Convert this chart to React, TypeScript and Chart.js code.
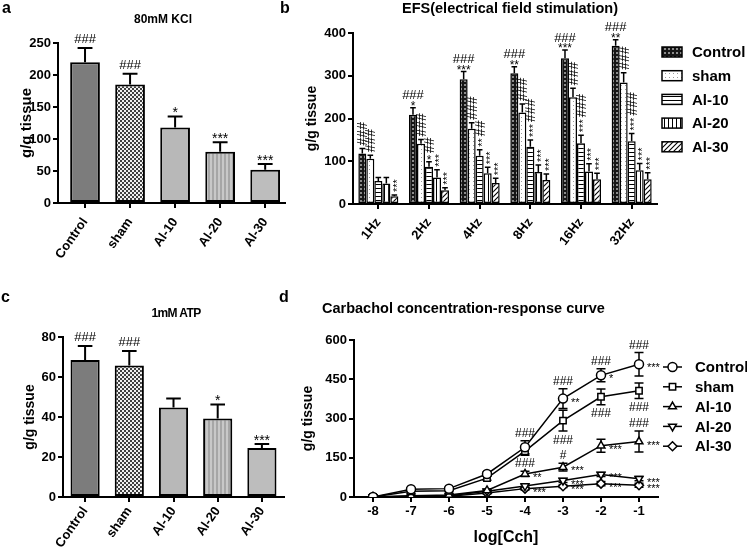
import React, { useEffect, useRef } from 'react';
import { Chart, registerables } from 'chart.js';
import { drawPoint } from 'chart.js/helpers';

Chart.register(...registerables);

const FONT = '"Liberation Sans", Arial, Helvetica, sans-serif';

// ---------- Panel a: 80mM KCl ----------
const groupLabels = ['Control', 'sham', 'Al-10', 'Al-20', 'Al-30'];
const kclMean = [220, 185, 118, 80, 52];
const kclSem = [22, 17, 17, 15, 9];
const kclTicks = [0, 50, 100, 150, 200, 250];
const kclMarks = ['###', '###', '*', '***', '***'];

// ---------- Panel c: 1mM ATP ----------
const atpMean = [68.5, 65.7, 44.8, 39.3, 24.5];
const atpSem = [7, 7.3, 4.4, 7, 2];
const atpTicks = [0, 20, 40, 60, 80];
const atpMarks = ['###', '###', '', '*', '***'];

// ---------- Panel b: EFS ----------
const efsLabels = ['1Hz', '2Hz', '4Hz', '8Hz', '16Hz', '32Hz'];
const efsControl = [118, 209, 292, 306, 341, 370];
const efsControlSem = [12, 16, 18, 15, 19, 14];
const efsSham = [106, 141, 176, 214, 250, 284];
const efsShamSem = [8, 10, 14, 20, 21, 23];
const efsAl10 = [54, 87, 113, 134, 142, 147];
const efsAl10Sem = [8, 12, 14, 16, 19, 18];
const efsAl20 = [48, 62, 72, 75, 76, 79];
const efsAl20Sem = [14, 18, 14, 16, 18, 16];
const efsAl30 = [18, 32, 49, 56, 58, 58];
const efsAl30Sem = [3, 6, 11, 14, 14, 15];
const efsTicks = [0, 100, 200, 300, 400];
// marks stacked bottom-to-top, '^' = written vertically
const efsControlMarks = ['^###', '*,###', '***,###', '**,###', '***,###', '**,###'];
const efsShamMarks = ['^###', '^###', '^###', '^###', '^###', '^###'];
const efsAl10Marks = ['', '*,^##', '^**,^##', '^***,^###', '^***,^###', '^***,^###'];
const efsAl20Marks = ['', '^***', '^***', '^***', '^***', '^***'];
const efsAl30Marks = ['^***', '^***', '^***', '^***', '^***', '^***'];

// ---------- Panel d: Carbachol ----------
const cchX = [-8, -7, -6, -5, -4, -3, -2, -1];
const cchControl = [0, 30, 32, 88, 190, 376, 465, 507];
const cchControlSem = [0, 4, 4, 8, 25, 38, 25, 45];
const cchSham = [0, 22, 24, 72, 175, 292, 383, 406];
const cchShamSem = [0, 3, 3, 8, 15, 40, 30, 30];
const cchAl10 = [0, 5, 8, 25, 88, 114, 196, 212];
const cchAl10Sem = [0, 2, 2, 5, 10, 15, 25, 40];
const cchAl20 = [0, 3, 5, 22, 42, 63, 86, 70];
const cchAl20Sem = [0, 1, 1, 3, 6, 8, 8, 8];
const cchAl30 = [0, 2, 3, 15, 32, 41, 51, 45];
const cchAl30Sem = [0, 1, 1, 3, 5, 5, 8, 8];
const cchTicks = [0, 150, 300, 450, 600];
const cchMarks = [
  { s: 0, i: 4, t: '###', at: 'above' },
  { s: 0, i: 5, t: '###', at: 'above' },
  { s: 0, i: 6, t: '###', at: 'above' },
  { s: 0, i: 7, t: '###', at: 'above' },
  { s: 0, i: 5, t: '**', at: 'right' },
  { s: 0, i: 6, t: '*', at: 'right' },
  { s: 0, i: 7, t: '***', at: 'right' },
  { s: 1, i: 5, t: '###', at: 'below' },
  { s: 1, i: 6, t: '###', at: 'below' },
  { s: 1, i: 7, t: '###', at: 'below' },
  { s: 2, i: 4, t: '###', at: 'above' },
  { s: 2, i: 5, t: '#', at: 'above' },
  { s: 2, i: 7, t: '###', at: 'above' },
  { s: 2, i: 4, t: '**', at: 'right' },
  { s: 2, i: 5, t: '***', at: 'right' },
  { s: 2, i: 6, t: '***', at: 'right' },
  { s: 2, i: 7, t: '***', at: 'right' },
  { s: 3, i: 5, t: '***', at: 'right' },
  { s: 3, i: 6, t: '***', at: 'right' },
  { s: 3, i: 7, t: '***', at: 'right' },
  { s: 4, i: 4, t: '***', at: 'right' },
  { s: 4, i: 5, t: '***', at: 'right' },
  { s: 4, i: 6, t: '***', at: 'right' },
  { s: 4, i: 7, t: '***', at: 'right' },
];

// ---------- helpers ----------
function tile(w: number, h: number, draw: (g: CanvasRenderingContext2D) => void) {
  const c = document.createElement('canvas');
  c.width = w;
  c.height = h;
  const g = c.getContext('2d') as CanvasRenderingContext2D;
  draw(g);
  return g.createPattern(c, 'repeat');
}

const axisGrid = () => ({
  display: true,
  drawOnChartArea: false,
  drawTicks: true,
  tickLength: 5,
  color: '#000',
  lineWidth: 2,
  offset: false,
});
const axisBorder = { display: true, color: '#000', width: 2 };
const tickFont = { family: FONT, size: 13, weight: 'bold' as const };

function yScale(ticks: number[], width: number, titleSize: number, titlePad: number) {
  return {
    type: 'linear',
    min: ticks[0],
    max: ticks[ticks.length - 1],
    afterBuildTicks: (s: any) => {
      s.ticks = ticks.map((v) => ({ value: v }));
    },
    afterFit: (s: any) => {
      s.width = width;
    },
    grid: axisGrid(),
    border: axisBorder,
    ticks: { color: '#000', font: tickFont, padding: 2 },
    title: {
      display: true,
      text: 'g/g tissue',
      color: '#000',
      font: { family: FONT, size: titleSize, weight: 'bold' },
      padding: { top: titlePad, bottom: 0 },
    },
  };
}

function stackMarks(ctx: CanvasRenderingContext2D, x: number, y0: number, spec: string, o: any) {
  const tokens = (spec || '').split(',').filter(Boolean);
  let cursor = y0;
  ctx.save();
  ctx.fillStyle = '#000';
  for (const tok of tokens) {
    const vertical = tok[0] === '^';
    const t = vertical ? tok.slice(1) : tok;
    const isStar = t[0] === '*';
    const size = vertical ? (isStar ? o.vstar : o.vhash) : isStar ? o.star : o.hash;
    ctx.font = `${size}px ${FONT}`;
    ctx.textBaseline = 'alphabetic';
    if (!vertical) {
      ctx.textAlign = 'center';
      ctx.fillText(t, x, cursor + (isStar ? 0.42 * size : 0));
      cursor -= (isStar ? 0.3 : 0.72) * size + o.sp;
    } else {
      const w = ctx.measureText(t).width;
      ctx.save();
      ctx.translate(x + (isStar ? 0.58 : 0.36) * size, cursor);
      ctx.rotate(-Math.PI / 2);
      ctx.textAlign = 'left';
      ctx.fillText(t, 0, 0);
      ctx.restore();
      cursor -= w + o.sp;
    }
  }
  ctx.restore();
}

function barDecor(id: string, sems: number[][], marks: string[][], o: any) {
  return {
    id,
    afterDatasetsDraw(chart: any) {
      const ctx = chart.ctx;
      const ys = chart.scales.y;
      chart.data.datasets.forEach((ds: any, di: number) => {
        const meta = chart.getDatasetMeta(di);
        meta.data.forEach((bar: any, i: number) => {
          const raw = ds.data[i];
          const v = typeof raw === 'number' ? raw : raw.y;
          const top = ys.getPixelForValue(v + sems[di][i]);
          const half = (bar.width * o.cap) / 2;
          ctx.save();
          ctx.strokeStyle = '#000';
          ctx.lineWidth = o.lw;
          ctx.beginPath();
          ctx.moveTo(bar.x, bar.y);
          ctx.lineTo(bar.x, top);
          ctx.moveTo(bar.x - half, top);
          ctx.lineTo(bar.x + half, top);
          ctx.stroke();
          ctx.restore();
          stackMarks(ctx, bar.x, top - o.gap, marks[di][i], o);
        });
      });
    },
  };
}

export default function App() {
  const refA = useRef<HTMLCanvasElement>(null);
  const refB = useRef<HTMLCanvasElement>(null);
  const refC = useRef<HTMLCanvasElement>(null);
  const refD = useRef<HTMLCanvasElement>(null);

  useEffect(() => {
    Chart.defaults.font.family = FONT;
    Chart.defaults.color = '#000';

    const P: any = {
      aControl: '#7c7c7c',
      aSham: tile(4, 4, (g) => {
        g.fillStyle = '#f0f0f0';
        g.fillRect(0, 0, 4, 4);
        g.fillStyle = '#404040';
        g.fillRect(0, 0, 2, 2);
        g.fillRect(2, 2, 2, 2);
      }),
      aAl10: '#b8b8b8',
      aAl20: tile(4, 1, (g) => {
        g.fillStyle = '#c8c8c8';
        g.fillRect(0, 0, 4, 1);
        g.fillStyle = '#a6a6a6';
        g.fillRect(0, 0, 2, 1);
      }),
      aAl30: '#bdbdbd',
      bControl: tile(4, 4, (g) => {
        g.fillStyle = '#161616';
        g.fillRect(0, 0, 4, 4);
        g.fillStyle = '#8c8c8c';
        g.fillRect(0, 0, 2, 2);
      }),
      bSham: tile(4, 4, (g) => {
        g.fillStyle = '#ffffff';
        g.fillRect(0, 0, 4, 4);
        g.fillStyle = '#999999';
        g.fillRect(1, 1, 1, 1);
      }),
      bAl10: tile(1, 4, (g) => {
        g.fillStyle = '#ffffff';
        g.fillRect(0, 0, 1, 4);
        g.fillStyle = '#000000';
        g.fillRect(0, 0, 1, 1);
      }),
      bAl20: tile(4, 1, (g) => {
        g.fillStyle = '#ffffff';
        g.fillRect(0, 0, 4, 1);
        g.fillStyle = '#000000';
        g.fillRect(0, 0, 1, 1);
      }),
      bAl30: tile(5, 5, (g) => {
        g.fillStyle = '#ffffff';
        g.fillRect(0, 0, 5, 5);
        g.strokeStyle = '#000';
        g.lineWidth = 1.1;
        g.beginPath();
        g.moveTo(-1, 6);
        g.lineTo(6, -1);
        g.moveTo(-1, 1);
        g.lineTo(1, -1);
        g.moveTo(4, 6);
        g.lineTo(6, 4);
        g.stroke();
      }),
    };

    const charts: Chart[] = [];

    const barPanel = (
      canvas: HTMLCanvasElement,
      id: string,
      mean: number[],
      sem: number[],
      marks: string[],
      ticks: number[],
      xmin: number,
      xmax: number,
      pad: any,
      yW: number,
      xH: number,
      titleSize: number,
      titlePad: number,
      labelPad: number
    ) =>
      new Chart(canvas, {
        type: 'bar',
        data: {
          datasets: [
            {
              data: mean.map((y, i) => ({ x: i, y })),
              backgroundColor: [P.aControl, P.aSham, P.aAl10, P.aAl20, P.aAl30],
              borderColor: '#000',
              borderWidth: 2,
              borderSkipped: false,
              barPercentage: 0.66,
              categoryPercentage: 1,
            } as any,
          ],
        },
        options: {
          responsive: false,
          animation: false,
          events: [],
          layout: { padding: pad },
          plugins: { legend: { display: false }, tooltip: { enabled: false } },
          scales: {
            x: {
              type: 'linear',
              min: xmin,
              max: xmax,
              offset: false,
              afterBuildTicks: (s: any) => {
                s.ticks = groupLabels.map((_, i) => ({ value: i }));
              },
              afterFit: (s: any) => {
                s.height = xH;
              },
              grid: axisGrid(),
              border: axisBorder,
              ticks: {
                color: '#000',
                font: tickFont,
                autoSkip: false,
                minRotation: 55,
                maxRotation: 55,
                padding: labelPad,
                callback: (v: any) => groupLabels[v] ?? '',
              },
            } as any,
            y: yScale(ticks, yW, titleSize, titlePad) as any,
          },
        },
        plugins: [
          barDecor(id, [sem], [marks], { cap: 0.5, lw: 2, gap: 5, hash: 13, star: 14, vhash: 13, vstar: 14, sp: 2 }),
        ],
      });

    charts.push(
      barPanel(refA.current!, 'decA', kclMean, kclSem, kclMarks, kclTicks, -0.6, 4.44,
        { left: 15, top: 43, right: 15, bottom: 0 }, 43, 67, 15, 3.3, 7)
    );
    charts.push(
      barPanel(refC.current!, 'decC', atpMean, atpSem, atpMarks, atpTicks, -0.5, 4.5,
        { left: 17, top: 67, right: 16, bottom: 0 }, 46, 51, 14, 4.6, 2)
    );

    // ---------- Panel b ----------
    const efsMeans = [efsControl, efsSham, efsAl10, efsAl20, efsAl30];
    const efsSems = [efsControlSem, efsShamSem, efsAl10Sem, efsAl20Sem, efsAl30Sem];
    const efsMarks = [efsControlMarks, efsShamMarks, efsAl10Marks, efsAl20Marks, efsAl30Marks];
    const bFills = [P.bControl, P.bSham, P.bAl10, P.bAl20, P.bAl30];

    const efsLegend = {
      id: 'efsLegend',
      afterDraw(chart: any) {
        const { ctx, chartArea } = chart;
        chart.data.datasets.forEach((ds: any, k: number) => {
          const cy = chartArea.top + 19 + k * 23.7;
          const bx = chartArea.right + 5;
          ctx.save();
          ctx.fillStyle = ds.backgroundColor;
          ctx.fillRect(bx, cy - 5, 20, 10);
          ctx.strokeStyle = '#000';
          ctx.lineWidth = 1.5;
          ctx.strokeRect(bx, cy - 5, 20, 10);
          ctx.fillStyle = '#000';
          ctx.font = `bold 15px ${FONT}`;
          ctx.textBaseline = 'middle';
          ctx.textAlign = 'left';
          ctx.fillText(ds.label, bx + 30, cy + 1);
          ctx.restore();
        });
      },
    };

    charts.push(
      new Chart(refB.current!, {
        type: 'bar',
        data: {
          labels: efsLabels,
          datasets: efsMeans.map((m, k) => ({
            label: groupLabels[k],
            data: m,
            backgroundColor: bFills[k],
            borderColor: '#000',
            borderWidth: 1.5,
            borderSkipped: false,
            categoryPercentage: 0.79,
            barPercentage: 1,
          })) as any,
        },
        options: {
          responsive: false,
          animation: false,
          events: [],
          layout: { padding: { left: 0, top: 33, right: 90, bottom: 0 } },
          plugins: { legend: { display: false }, tooltip: { enabled: false } },
          scales: {
            x: {
              type: 'category',
              offset: true,
              afterFit: (s: any) => {
                s.height = 66;
              },
              grid: axisGrid(),
              border: axisBorder,
              ticks: {
                color: '#000',
                font: tickFont,
                autoSkip: false,
                minRotation: 52,
                maxRotation: 52,
                padding: 6,
              },
            } as any,
            y: yScale(efsTicks, 53, 14, 3.6) as any,
          },
        },
        plugins: [
          barDecor('decB', efsSems, efsMarks, { cap: 0.7, lw: 1.5, gap: 3, hash: 13, star: 12, vhash: 14, vstar: 11, sp: 2 }),
          efsLegend,
        ],
      })
    );

    // ---------- Panel d ----------
    const cchMeans = [cchControl, cchSham, cchAl10, cchAl20, cchAl30];
    const cchSems = [cchControlSem, cchShamSem, cchAl10Sem, cchAl20Sem, cchAl30Sem];
    const cchStyles = ['circle', 'rect', 'triangle', 'triangle', 'rectRot'];
    const cchRot = [0, 0, 0, 180, 0];

    const cchDecor = {
      id: 'cchDecor',
      beforeDatasetsDraw(chart: any) {
        const ctx = chart.ctx;
        const ys = chart.scales.y;
        cchMeans.forEach((m, s) => {
          const meta = chart.getDatasetMeta(s);
          meta.data.forEach((pt: any, i: number) => {
            const e = cchSems[s][i];
            if (!e) return;
            const t = ys.getPixelForValue(m[i] + e);
            const b = ys.getPixelForValue(m[i] - e);
            ctx.save();
            ctx.strokeStyle = '#000';
            ctx.lineWidth = 1.5;
            ctx.beginPath();
            ctx.moveTo(pt.x, t);
            ctx.lineTo(pt.x, b);
            ctx.moveTo(pt.x - 4.5, t);
            ctx.lineTo(pt.x + 4.5, t);
            ctx.moveTo(pt.x - 4.5, b);
            ctx.lineTo(pt.x + 4.5, b);
            ctx.stroke();
            ctx.restore();
          });
        });
      },
      afterDatasetsDraw(chart: any) {
        const ctx = chart.ctx;
        const ys = chart.scales.y;
        cchMarks.forEach((mk) => {
          const pt = chart.getDatasetMeta(mk.s).data[mk.i];
          const v = cchMeans[mk.s][mk.i];
          const e = cchSems[mk.s][mk.i];
          const isStar = mk.t[0] === '*';
          const size = isStar ? 11 : 12;
          if (mk.at === 'above') {
            stackMarks(ctx, pt.x, ys.getPixelForValue(v + e) - 4, mk.t, { hash: 12, star: 11, vhash: 12, vstar: 11, sp: 2 });
            return;
          }
          ctx.save();
          ctx.fillStyle = '#000';
          ctx.font = `${size}px ${FONT}`;
          ctx.textBaseline = 'alphabetic';
          if (mk.at === 'below') {
            ctx.textAlign = 'center';
            ctx.fillText(mk.t, pt.x, ys.getPixelForValue(v - e) + 4 + 0.72 * size);
          } else {
            ctx.textAlign = 'left';
            ctx.fillText(mk.t, pt.x + 8, pt.y + 7);
          }
          ctx.restore();
        });
      },
    };

    const cchLegend = {
      id: 'cchLegend',
      afterDraw(chart: any) {
        const { ctx, chartArea } = chart;
        chart.data.datasets.forEach((ds: any, k: number) => {
          const cy = chartArea.top + 27 + k * 19.8;
          const x0 = chartArea.right + 5;
          ctx.save();
          ctx.strokeStyle = '#000';
          ctx.lineWidth = 1.5;
          ctx.beginPath();
          ctx.moveTo(x0, cy);
          ctx.lineTo(x0 + 19, cy);
          ctx.stroke();
          ctx.fillStyle = '#fff';
          drawPoint(ctx, { pointStyle: cchStyles[k], rotation: cchRot[k], radius: 4.5, borderWidth: 1.5 } as any, x0 + 9.5, cy);
          ctx.fillStyle = '#000';
          ctx.font = `bold 15px ${FONT}`;
          ctx.textBaseline = 'middle';
          ctx.textAlign = 'left';
          ctx.fillText(ds.label, x0 + 32, cy + 1);
          ctx.restore();
        });
      },
    };

    charts.push(
      new Chart(refD.current!, {
        type: 'line',
        data: {
          datasets: cchMeans.map((m, k) => ({
            label: groupLabels[k],
            data: cchX.map((x, i) => ({ x, y: m[i] })),
            borderColor: '#000',
            borderWidth: 1.5,
            pointStyle: cchStyles[k],
            pointRotation: cchRot[k],
            pointRadius: 4.5,
            pointBackgroundColor: '#fff',
            pointBorderColor: '#000',
            pointBorderWidth: 1.5,
            tension: 0,
            fill: false,
          })) as any,
        },
        options: {
          responsive: false,
          animation: false,
          events: [],
          layout: { padding: { left: 0, top: 70, right: 89, bottom: 0 } },
          plugins: { legend: { display: false }, tooltip: { enabled: false } },
          scales: {
            x: {
              type: 'linear',
              min: -8.5,
              max: -0.5,
              afterBuildTicks: (s: any) => {
                s.ticks = cchX.map((v) => ({ value: v }));
              },
              afterFit: (s: any) => {
                s.height = 51;
              },
              grid: axisGrid(),
              border: axisBorder,
              ticks: { color: '#000', font: tickFont, padding: 2, maxRotation: 0 },
              title: {
                display: true,
                text: 'log[Cch]',
                color: '#000',
                font: { family: FONT, size: 16, weight: 'bold' },
                padding: { top: 0, bottom: 1 },
              },
            } as any,
            y: yScale(cchTicks, 54, 14, 0) as any,
          },
        },
        plugins: [cchDecor, cchLegend],
      })
    );

    return () => charts.forEach((c) => c.destroy());
  }, []);

  const txt = (text: string, left: number, top: number, size: number, extra: any = {}) => (
    <div
      style={{
        position: 'absolute',
        left,
        top,
        fontSize: size,
        lineHeight: `${size}px`,
        fontWeight: 'bold',
        fontFamily: FONT,
        color: '#000',
        whiteSpace: 'nowrap',
        ...extra,
      }}
    >
      {text}
    </div>
  );

  return (
    <div
      style={{
        position: 'absolute',
        left: 0,
        top: 0,
        width: 747,
        height: 548,
        background: '#fff',
        overflow: 'hidden',
      }}
    >
      <canvas ref={refA} width={300} height={270} style={{ position: 'absolute', left: 0, top: 0 }} />
      <canvas ref={refB} width={447} height={270} style={{ position: 'absolute', left: 300, top: 0 }} />
      <canvas ref={refC} width={300} height={278} style={{ position: 'absolute', left: 0, top: 270 }} />
      <canvas ref={refD} width={447} height={278} style={{ position: 'absolute', left: 300, top: 270 }} />
      {txt('a', 2, 0, 16)}
      {txt('b', 280, 0, 16)}
      {txt('c', 1, 289, 16)}
      {txt('d', 279, 289, 16)}
      {txt('80mM KCl', 163, 13, 12, { transform: 'translateX(-50%)' })}
      {txt('EFS(electrical field stimulation)', 510, 1, 14.5, { transform: 'translateX(-50%)' })}
      {txt('1mM ATP', 176, 307, 12, { transform: 'translateX(-50%)', letterSpacing: '-0.6px' })}
      {txt('Carbachol concentration-response curve', 322, 301, 14.5)}
    </div>
  );
}
